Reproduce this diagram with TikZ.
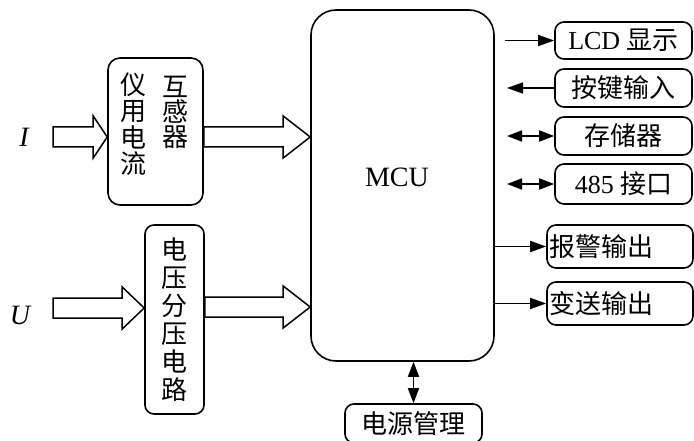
\documentclass[tikz,border=0pt]{standalone}
\usepackage{fontspec}
\setmainfont{Liberation Serif}
\newfontfamily\cjk{Noto Sans CJK SC}
\usetikzlibrary{arrows.meta,calc}
\tikzset{
  blk/.style={draw, line width=1.6pt, rounded corners=9pt, inner sep=1pt,
    font=\fontsize{26}{27}\selectfont},
  tip/.style={line width=1.7pt, -{Triangle[length=16pt,width=11pt]}},
  dbl/.style={line width=1.7pt, {Triangle[length=15pt,width=11pt]}-{Triangle[length=15pt,width=11pt]}},
  fat/.style={draw, line width=1.5pt, fill=white},
}
% hollow block arrow: start, tip, head length
\newcommand\fatarrow[3]{%
  \draw[fat] let \p1=(#1), \p2=(#2) in
    (\x1,\y1+10pt) -- (\x2-#3pt,\y1+10pt) -- (\x2-#3pt,\y1+21pt) -- (\x2,\y1)
    -- (\x2-#3pt,\y1-21pt) -- (\x2-#3pt,\y1-10pt) -- (\x1,\y1-10pt) -- cycle;}
\begin{document}
\begin{tikzpicture}[x=1pt,y=-1pt]
\useasboundingbox (0,0) rectangle (694,441);
% MCU
\node[blk, rounded corners=25pt, minimum width=183pt, minimum height=351pt] (mcu) at (402.5,185.5) {};
\node[font=\fontsize{28}{30}\selectfont] (mcutxt) at (397,177.5) {MCU};
% inputs
\node[blk, minimum width=95pt, minimum height=147pt, rounded corners=12pt] (ct) at (155.5,131.5) {};
\node[font=\cjk\fontsize{26}{26.5}\selectfont, align=center] (ctl) at (133,124) {仪\\用\\电\\流};
\node[font=\cjk\fontsize{26}{25}\selectfont, align=center] (ctr) at (175,112) {互\\感\\器};
\node[blk, minimum width=59pt, minimum height=189pt, align=center,
  font=\cjk\fontsize{26}{28}\selectfont] (div) at (174.5,319.5) {电\\压\\分\\压\\电\\路};
\node[font=\itshape\fontsize{28}{30}\selectfont] (ilab) at (24,137.5) {I};
\node[font=\itshape\fontsize{28}{30}\selectfont] (ulab) at (20,315) {U};
\coordinate (irow) at (0,137);
\coordinate (urow) at (0,307);
\coordinate (iin) at (53,137);
\coordinate (uin) at (53,308);
\fatarrow{iin}{ct.west |- iin}{14}
\fatarrow{ct.east |- irow}{mcu.west |- irow}{27}
\fatarrow{uin}{div.west |- uin}{22}
\fatarrow{div.east |- urow}{mcu.west |- urow}{27}
% peripherals
\node[blk, minimum width=137pt, minimum height=37pt] (lcd) at (623.5,40.5) {LCD {\cjk 显示}};
\node[blk, minimum width=137pt, minimum height=38pt] (key) at (623.5,88) {\cjk 按键输入};
\node[blk, minimum width=137pt, minimum height=38pt] (mem) at (623.5,136) {\cjk 存储器};
\node[blk, minimum width=137pt, minimum height=40pt] (com) at (623.5,184) {485 {\cjk 接口}};
\node[blk, minimum height=43pt, inner xsep=2pt, text width=142pt, align=left] (alarm) at (620,246.5) {\cjk 报警输出};
\node[blk, minimum height=43pt, inner xsep=2pt, text width=142pt, align=left] (trans) at (620,303.5) {\cjk 变送输出};
\node[blk, minimum width=137pt, minimum height=39pt] (pwr) at (413.5,423.5) {\cjk 电源管理};
\coordinate (lcdsrc) at (505,40.5);
\coordinate (keyend) at (507,88);
\coordinate (memend) at (507,136);
\coordinate (comend) at (507,184);
\draw[tip] (lcdsrc) -- (lcd.west);
\draw[tip] (key.west) -- (keyend);
\draw[dbl] (memend) -- (mem.west);
\draw[dbl] (comend) -- (com.west);
\draw[tip] (mcu.east |- alarm) -- (alarm.west);
\draw[tip] (mcu.east |- trans) -- (trans.west);
\draw[dbl] (mcu.south -| pwr.north) -- (pwr.north);
\end{tikzpicture}
\end{document}
